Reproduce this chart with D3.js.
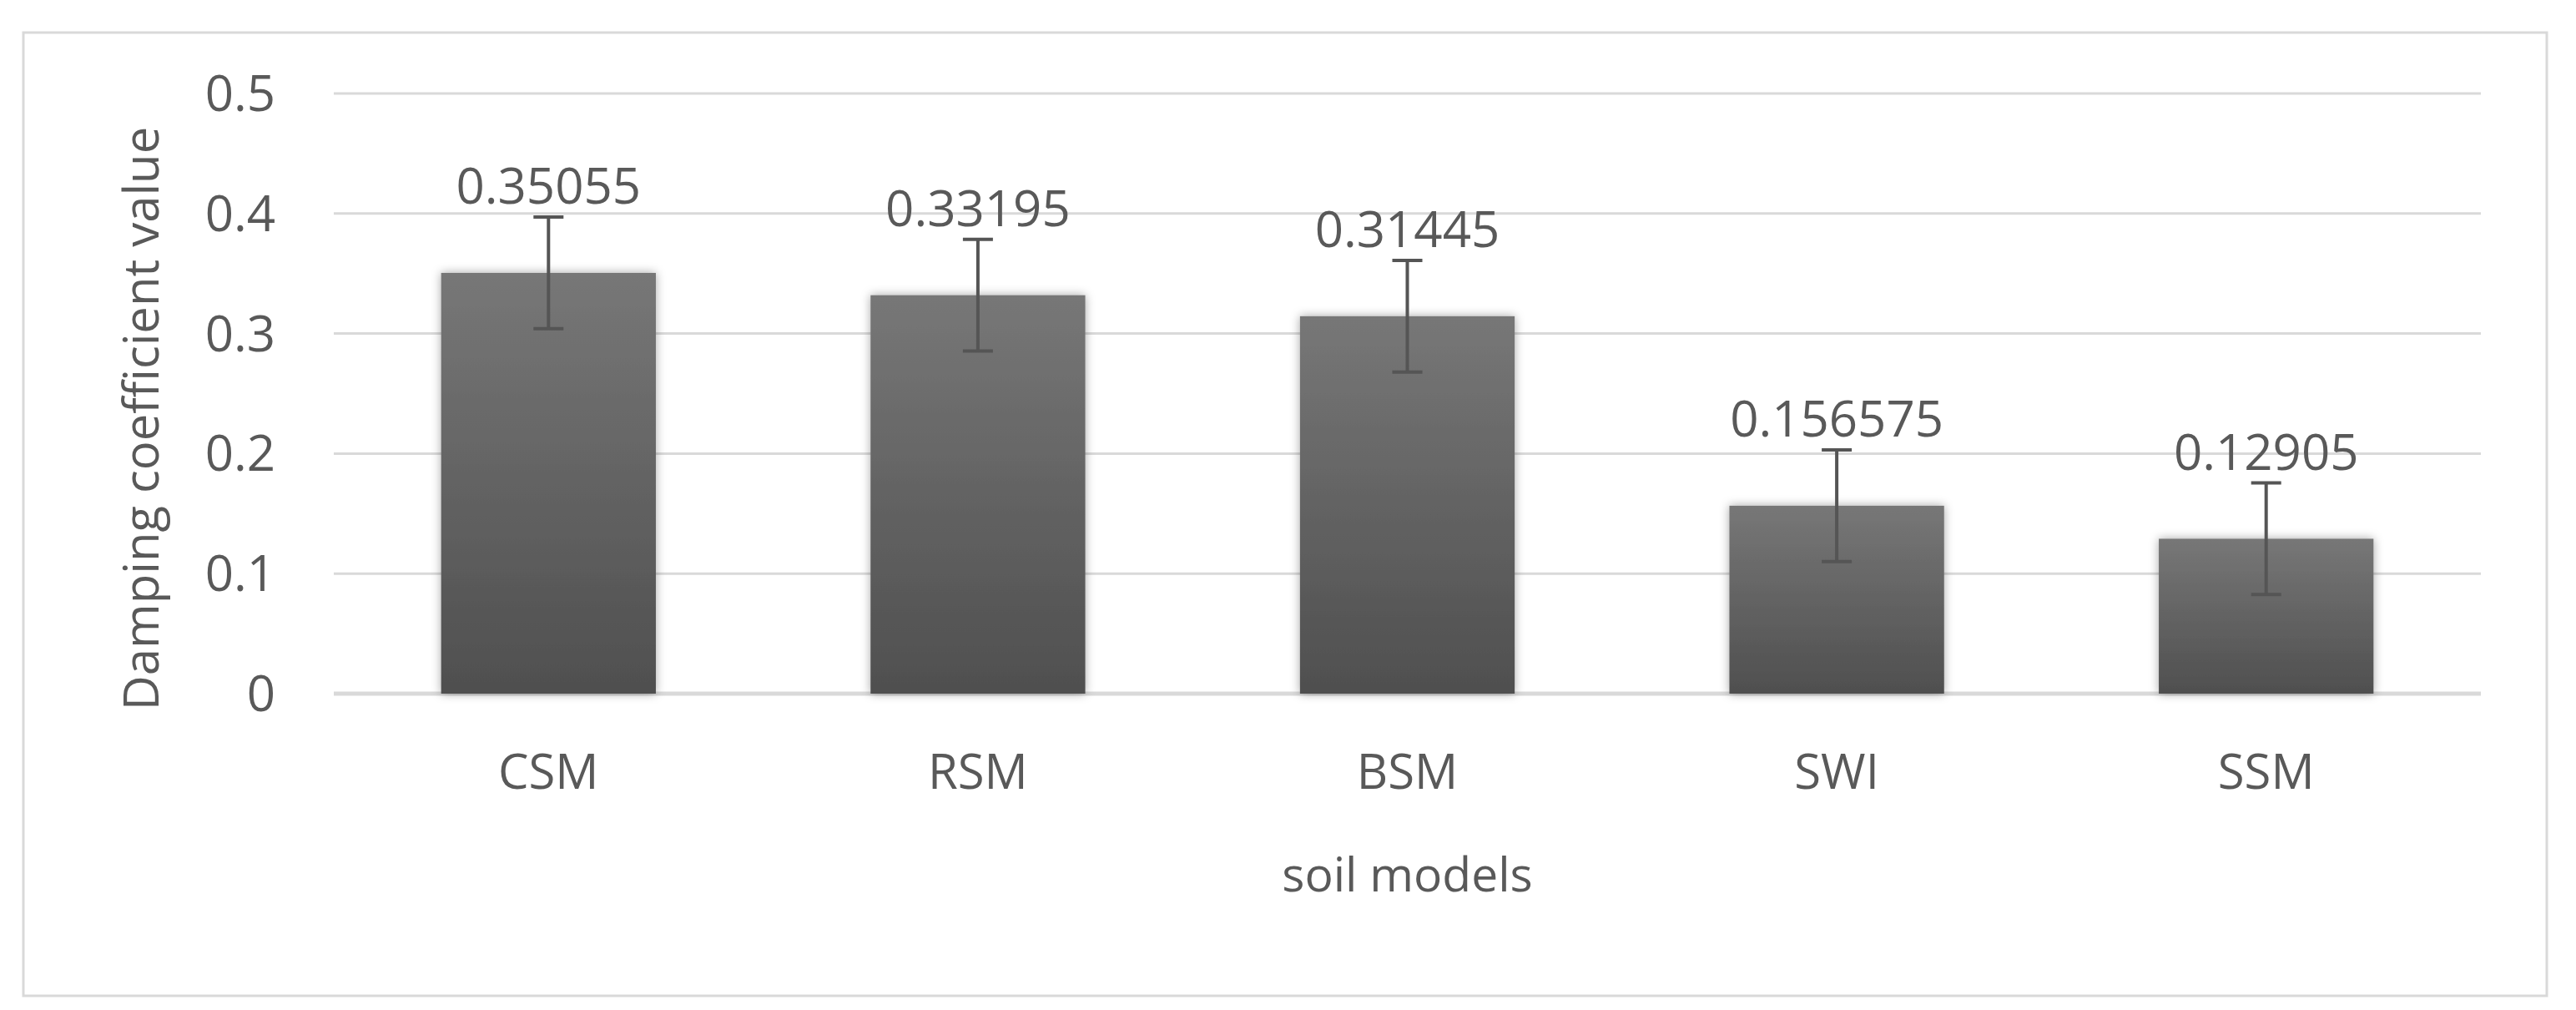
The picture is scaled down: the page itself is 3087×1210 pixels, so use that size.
<!DOCTYPE html>
<html><head><meta charset="utf-8">
<script src="https://cdn.jsdelivr.net/npm/d3@7"></script>
<style>body{margin:0;background:#fff}</style></head>
<body><svg id="c" width="3087" height="1210"></svg>
<script>
const categories=["CSM","RSM","BSM","SWI","SSM"];
const values=[0.35055,0.33195,0.31445,0.156575,0.12905];
const errors=[0.0465,0.0465,0.0465,0.0465,0.0465];
const labels=["0.35055","0.33195","0.31445","0.156575","0.12905"];
const yTicks=[0,0.1,0.2,0.3,0.4,0.5];

const svg=d3.select("#c");
const font="'Open Sans', 'Liberation Sans', sans-serif";
const col="#595959";
svg.append("rect").attr("x",28).attr("y",39).attr("width",3024).attr("height",1154)
  .attr("fill","#fff").attr("stroke","#d9d9d9").attr("stroke-width",3);
const L=400,R=2973,T=112,B=831;
const x=d3.scaleBand().domain(categories).range([L,R]).paddingInner(0.5).paddingOuter(0.25);
const y=d3.scaleLinear().domain([0,0.5]).range([B,T]);
const defs=svg.append("defs");
const g=defs.append("linearGradient").attr("id","gr").attr("x1",0).attr("y1",0).attr("x2",0).attr("y2",1);
g.append("stop").attr("offset",0).attr("stop-color","#777777");
g.append("stop").attr("offset",1).attr("stop-color","#4f4f4f");
const f=defs.append("filter").attr("id","sh").attr("x","-20%").attr("y","-20%").attr("width","140%").attr("height","140%");
f.append("feDropShadow").attr("dx",0).attr("dy",0).attr("stdDeviation",6).attr("flood-color","#000").attr("flood-opacity",0.35);

svg.append("g").selectAll("line").data(yTicks).join("line")
 .attr("x1",L).attr("x2",R).attr("y1",d=>y(d)).attr("y2",d=>y(d))
 .attr("stroke","#d9d9d9").attr("stroke-width",d=>d===0?5:3);
svg.append("g").selectAll("text").data(yTicks).join("text")
 .attr("x",330).attr("y",d=>y(d)).attr("dy","0.35em").attr("text-anchor","end")
 .attr("font-family",font).attr("font-size",60).attr("fill",col).text(d=>d===0?"0":d.toFixed(1));

svg.append("g").selectAll("rect").data(values).join("rect")
 .attr("x",(d,i)=>x(categories[i])).attr("width",x.bandwidth())
 .attr("y",d=>y(d)).attr("height",d=>B-y(d)).attr("fill","url(#gr)").attr("filter","url(#sh)");

const eb=svg.append("g").attr("stroke","#555").attr("stroke-width",4);
values.forEach((v,i)=>{
 const cx=x(categories[i])+x.bandwidth()/2;
 eb.append("line").attr("x1",cx).attr("x2",cx).attr("y1",y(v-errors[i])).attr("y2",y(v+errors[i]));
 [v-errors[i],v+errors[i]].forEach(e=>eb.append("line").attr("x1",cx-18).attr("x2",cx+18).attr("y1",y(e)).attr("y2",y(e)));
 svg.append("text").attr("x",cx).attr("y",y(v+errors[i])-16).attr("text-anchor","middle")
  .attr("font-family",font).attr("font-size",60).attr("fill",col).text(labels[i]);
 svg.append("text").attr("x",cx).attr("y",945).attr("text-anchor","middle")
  .attr("font-family",font).attr("font-size",58).attr("fill",col).text(categories[i]);
});
svg.append("text").attr("x",(L+R)/2).attr("y",1068).attr("text-anchor","middle")
 .attr("font-family",font).attr("font-size",57).attr("fill",col).text("soil models");
svg.append("text").attr("transform",`translate(190,${(T+B)/2+30}) rotate(-90)`).attr("text-anchor","middle")
 .attr("font-family",font).attr("font-size",58).attr("fill",col).text("Damping coefficient value");
</script></body></html>
